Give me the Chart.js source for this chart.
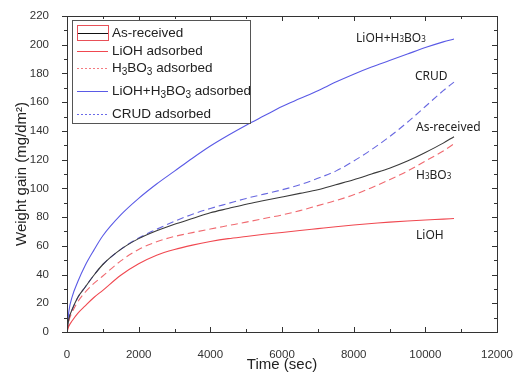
<!DOCTYPE html>
<html>
<head>
<meta charset="utf-8">
<script src="https://cdn.jsdelivr.net/npm/chart.js@4.4.1/dist/chart.umd.min.js"></script>
<style>
  html, body { margin: 0; padding: 0; background: #fff; }
  #wrap { width: 516px; height: 383px; }
</style>
</head>
<body>
<div id="wrap"><canvas id="gainChart" width="516" height="383"></canvas></div>
<script>
// time in seconds, weight gain in mg/dm2
const times = [0, 50, 150, 300, 500, 750, 1000, 1500, 2000, 2500, 3000, 3500, 4000, 4500, 5000,
    5500, 6000, 6500, 7000, 7500, 8000, 8500, 9000, 9500, 10000, 10500, 10800];
const asReceived = [0, 9, 16, 24, 31, 39.5, 47, 57.5, 65, 70.5, 75, 79, 83, 86, 89,
    91.5, 94, 96.5, 99, 102.5, 106, 110, 114, 119, 125, 131.5, 136];
const lioh = [0, 4, 8, 13, 18, 24, 29, 39.5, 47.5, 53.5, 57.5, 60.5, 63, 65, 66.5,
    68, 69.3, 70.7, 72, 73.3, 74.5, 75.5, 76.5, 77.3, 78, 78.6, 79];
const h3bo3 = [0, 7.5, 14, 21, 27.5, 33.8, 39, 49.5, 57.5, 62.8, 66.5, 69.2, 71.7, 74.1, 76.5,
    79, 81.5, 84.5, 88, 91.5, 95.5, 100.5, 106, 112, 119, 126, 131];
const liohH3bo3 = [0, 14, 25, 35, 46, 57, 67, 81.5, 93, 103, 112, 121, 129.5, 137, 144,
    150.5, 157, 162.5, 168, 174, 179.5, 184.5, 189, 193.5, 198, 202, 204];
const crud = [0, 9, 16, 24, 31, 39.5, 47, 57.5, 65.5, 71.5, 77, 82, 86, 89.5, 93,
    96, 99, 102.5, 107, 112, 119, 127, 136, 146, 157, 168, 174];

const xTicks = [0, 2000, 4000, 6000, 8000, 10000, 12000];
const yTicks = [0, 20, 40, 60, 80, 100, 120, 140, 160, 180, 200, 220];

const toPoints = vals => times.map((t, i) => ({ x: t, y: vals[i] }));

const RED = '#f04850';
const PINK = '#f06a70';
const BLUE = '#5a5ae6';
const BLUE_D = '#6868e0';
const BLACK = '#3a3a3a';

// draw text with subscript parts: [['H'], ['3', true], ['BO'], ['3', true]]
function drawRich(ctx, parts, x, y, size, family, subSize, subDy) {
    let cx = x;
    parts.forEach(p => {
        ctx.font = (p[1] ? subSize : size) + 'px ' + family;
        ctx.fillText(p[0], cx, y + (p[1] ? subDy : 0));
        cx += ctx.measureText(p[0]).width;
    });
}

const framePlugin = {
    id: 'frame',
    afterDraw(chart) {
        const { ctx, chartArea: a, scales: { x, y } } = chart;
        ctx.save();
        ctx.strokeStyle = '#333';
        ctx.lineWidth = 1;
        ctx.strokeRect(a.left + 0.5, a.top + 0.5, a.right - a.left, a.bottom - a.top);
        ctx.beginPath();
        for (let v = 0; v <= 220; v += 10) {
            const py = Math.round(y.getPixelForValue(v)) + 0.5;
            const len = v % 20 === 0 ? 5 : 3;
            ctx.moveTo(a.left, py); ctx.lineTo(a.left - len, py);
            ctx.moveTo(a.right, py); ctx.lineTo(a.right - len, py);
        }
        for (let t = 0; t <= 12000; t += 1000) {
            const px = Math.round(x.getPixelForValue(t)) + 0.5;
            const len = t % 2000 === 0 ? 5 : 3;
            ctx.moveTo(px, a.bottom); ctx.lineTo(px, a.bottom - len);
            ctx.moveTo(px, a.top); ctx.lineTo(px, a.top + len);
        }
        ctx.stroke();

        // legend box
        const lx = a.left + 5, ly = a.top + 4;
        ctx.fillStyle = '#fff';
        ctx.fillRect(lx, ly, 178, 103);
        ctx.strokeStyle = '#555';
        ctx.strokeRect(lx + 0.5, ly + 0.5, 178, 103);
        const items = [
            { parts: [['As-received']], color: '#111', dash: [], dy: 13 },
            { parts: [['LiOH adsorbed']], color: RED, dash: [], dy: 31 },
            { parts: [['H'], ['3', true], ['BO'], ['3', true], [' adsorbed']], color: '#f47a80', dash: [2, 2], dy: 48 },
            { parts: [['LiOH+H'], ['3', true], ['BO'], ['3', true], [' adsorbed']], color: BLUE, dash: [], dy: 71 },
            { parts: [['CRUD adsorbed']], color: '#6a6ae8', dash: [2, 2], dy: 94 }
        ];
        ctx.textBaseline = 'middle';
        items.forEach(it => {
            const yy = ly + it.dy + 0.5;
            ctx.strokeStyle = it.color;
            ctx.setLineDash(it.dash);
            ctx.beginPath();
            ctx.moveTo(lx + 5, yy); ctx.lineTo(lx + 36, yy);
            ctx.stroke();
            ctx.setLineDash([]);
            ctx.fillStyle = '#222';
            drawRich(ctx, it.parts, lx + 40, yy, 13.5, '"Liberation Sans", Arial', 10, 4);
        });
        ctx.strokeStyle = '#e85058';
        ctx.strokeRect(lx + 5.5, ly + 5.5, 31, 15);

        // curve labels
        ctx.fillStyle = '#222';
        const f = '"Noto Sans", sans-serif';
        drawRich(ctx, [['LiOH+H'], ['3', true], ['BO'], ['3', true]], x.getPixelForValue(8066), y.getPixelForValue(204), 12, f, 8, 1);
        drawRich(ctx, [['CRUD']], x.getPixelForValue(9712), y.getPixelForValue(177.5), 12, f, 8, 1);
        drawRich(ctx, [['As-received']], x.getPixelForValue(9740), y.getPixelForValue(142), 12, f, 8, 1);
        drawRich(ctx, [['H'], ['3', true], ['BO'], ['3', true]], x.getPixelForValue(9740), y.getPixelForValue(109), 12, f, 8, 1);
        drawRich(ctx, [['LiOH']], x.getPixelForValue(9740), y.getPixelForValue(67), 12, f, 8, 1);
        ctx.restore();
    }
};

const line = (label, vals, color, dash) => ({
    label, data: toPoints(vals), borderColor: color, borderWidth: 1.1,
    borderDash: dash, pointRadius: 0, fill: false, cubicInterpolationMode: 'monotone'
});

const tickFont = { size: 11.5, family: '"Liberation Sans", Arial' };
const titleFont = { size: 15, family: '"Liberation Sans", Arial' };

new Chart(document.getElementById('gainChart'), {
    type: 'line',
    data: {
        datasets: [
            line('As-received', asReceived, BLACK, []),
            line('LiOH adsorbed', lioh, RED, []),
            line('H3BO3 adsorbed', h3bo3, PINK, [7, 4]),
            line('LiOH+H3BO3 adsorbed', liohH3bo3, BLUE, []),
            line('CRUD adsorbed', crud, BLUE_D, [7, 4])
        ]
    },
    options: {
        responsive: false,
        animation: false,
        layout: { padding: { top: 16, right: 19, left: 0, bottom: 0 } },
        plugins: { legend: { display: false }, tooltip: { enabled: false } },
        scales: {
            x: {
                type: 'linear', min: 0, max: 12000,
                afterFit: s => { s.height = 51; s.paddingLeft = 0; s.paddingRight = 0; },
                afterBuildTicks: s => { s.ticks = xTicks.map(v => ({ value: v })); },
                grid: { display: false }, border: { display: false },
                ticks: { color: '#333', font: tickFont, padding: 8, maxRotation: 0, callback: v => String(v) },
                title: { display: true, text: 'Time (sec)', color: '#222', font: titleFont, padding: { bottom: 9 } }
            },
            y: {
                min: 0, max: 220,
                afterFit: s => { s.width = 67; s.paddingTop = 0; s.paddingBottom = 0; },
                afterBuildTicks: s => { s.ticks = yTicks.map(v => ({ value: v })); },
                grid: { display: false }, border: { display: false },
                ticks: { color: '#333', font: tickFont, padding: 10, callback: v => String(v) },
                title: { display: true, text: 'Weight gain (mg/dm²)', color: '#222', font: titleFont, padding: { top: 13 } }
            }
        }
    },
    plugins: [framePlugin]
});
</script>
</body>
</html>
